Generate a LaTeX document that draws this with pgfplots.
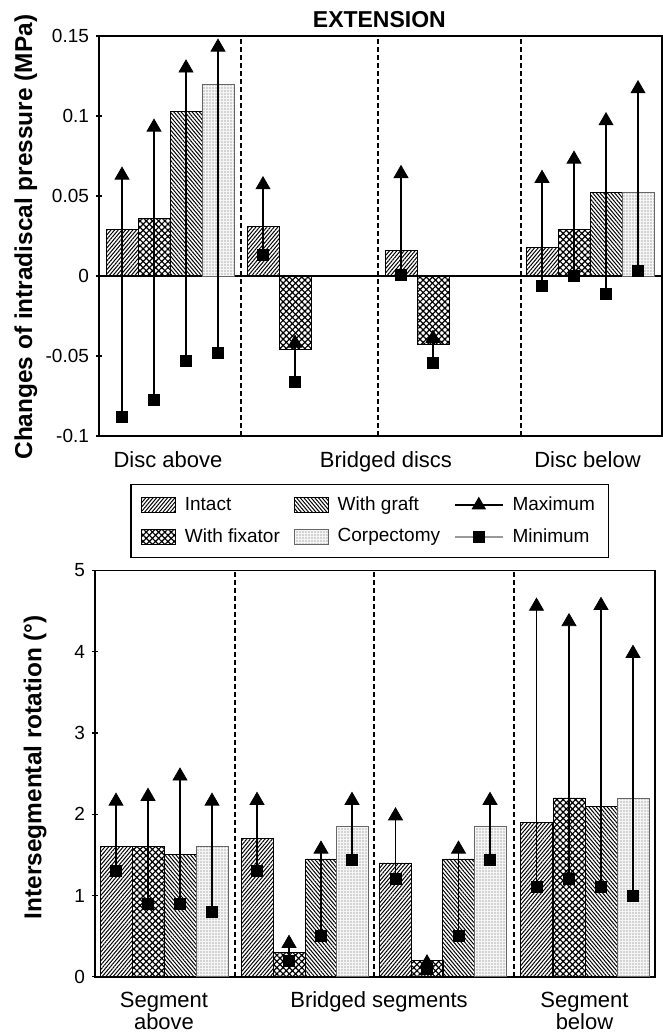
\documentclass[border=0pt]{standalone}
\usepackage{fontspec}
\setmainfont{Liberation Sans}
\usepackage{pgfplots}
\pgfplotsset{compat=1.18}
\usepackage{pgfplotstable}
\usetikzlibrary{patterns.meta}

\tikzset{
 intact/.style={draw=black, line width=0.4pt, pattern={Lines[angle=50,distance=1.4pt,line width=0.5pt]}, pattern color=black},
 fixator/.style={draw=black, line width=0.4pt, pattern={Hatch[angle=45,distance=2.2pt,line width=0.6pt]}, pattern color=black},
 graft/.style={draw=black, line width=0.4pt, pattern={Lines[angle=-50,distance=1.4pt,line width=0.5pt]}, pattern color=black},
 corp/.style={draw=black!60, line width=0.4pt, fill=black!4, postaction={pattern={Dots[distance=1.5pt,radius=0.3pt]}, pattern color=black!60}},
}

% ---------- top chart data ----------
\pgfplotstableread{
x val
122 0.029
263 0.031
401 0.016
542 0.018
}\topIntact
\pgfplotstableread{
x val
154 0.036
295 -0.046
433 -0.043
574 0.029
}\topFix
\pgfplotstableread{
x val
186 0.103
606 0.052
}\topGraft
\pgfplotstableread{
x val
218 0.120
638 0.052
}\topCorp
\pgfplotstableread{
x min max
122 -0.088 0.063
154 -0.0775 0.093
186 -0.053 0.130
218 -0.048 0.143
263 0.013 0.057
295 -0.066 -0.042
401 0.001 0.064
433 -0.054 -0.039
542 -0.006 0.061
574 0.000 0.073
606 -0.011 0.097
638 0.003 0.117
}\topRange

% ---------- bottom chart data ----------
\pgfplotstableread{
x val
116 1.6
257 1.7
395.5 1.4
536.5 1.9
}\botIntact
\pgfplotstableread{
x val
148 1.6
289 0.3
427 0.2
569 2.2
}\botFix
\pgfplotstableread{
x val
180 1.5
321 1.45
458.5 1.45
601 2.1
}\botGraft
\pgfplotstableread{
x val
212 1.6
352 1.85
490 1.85
633 2.2
}\botCorp
\pgfplotstableread{
x min max
116 1.3 2.16
148 0.9 2.22
180 0.9 2.47
212 0.8 2.16
257 1.3 2.17
289 0.2 0.41
321 0.5 1.57
352 1.44 2.17
395.5 1.2 1.98
427 0.1 0.17
458.5 0.5 1.57
490 1.44 2.17
536.5 1.1 4.56
569 1.2 4.37
601 1.1 4.57
633 1.0 3.98
}\botRange

\pgfplotsset{
 common/.style={
  scale only axis,
  axis line style={line width=0.8pt},
  ytick pos=left, tick align=center, major tick length=3pt,
  y tick style={black, line width=0.6pt},
  x tick style={draw=none},
  yticklabel style={font=\fontsize{9.5}{11}\selectfont},
  xticklabel style={font=\fontsize{11}{11}\selectfont, align=center, yshift=-2.5pt},
  extra x tick labels={},
  extra x tick style={grid=major, major grid style={black, line width=1.1pt, dash pattern=on 2.6pt off 1.4pt}, major tick length=0pt},
  ylabel style={font=\bfseries\fontsize{12.2}{14}\selectfont, anchor=center},
 },
 barplot/.style={ybar, bar width=32, bar shift=0pt, forget plot},
 rangeline/.style={draw=none, mark=none, forget plot, error bars/.cd, y dir=plus, y explicit, error mark=none, error bar style={draw=black, solid, line width=0.75pt}},
 minmark/.style={only marks, mark=square*, mark size=2.75pt, black, forget plot},
 maxmark/.style={only marks, mark=triangle*, mark size=4pt, black, forget plot},
 patchlegend/.style={legend image code/.code={\draw[##1] (0pt,-3.75pt) rectangle (17pt,3.75pt);}},
 linelegend/.style={legend image code/.code={\draw[mark repeat=2,mark phase=2,##1] plot coordinates {(0pt,0pt)(12pt,0pt)(24pt,0pt)};}},
}

\begin{document}
\begin{tikzpicture}
\path[use as bounding box] (0,0) rectangle (331.5pt,-516.5pt);

% ================= TOP =================
\begin{axis}[common,
 at={(49.5pt,-218pt)}, anchor=south west,
 width=281.5pt, height=200pt,
 xmin=99, xmax=662, ymin=-0.1, ymax=0.15,
 ytick={-0.1,-0.05,0,0.05,0.1,0.15},
 yticklabels={-0.1,-0.05,0,0.05,0.1,0.15},
 xtick={168,386,587.5},
 xticklabels={Disc above,Bridged discs,Disc below},
 extra x ticks={241,378.3,521},
 extra y ticks={0}, extra y tick labels={},
 extra y tick style={grid=major, major grid style={black, line width=0.6pt}},
 title={EXTENSION},
 title style={font=\bfseries\fontsize{11.5}{13}\selectfont, at={(axis description cs:0.498,1.01)}, anchor=center},
 ylabel={Changes of intradiscal pressure (MPa)},
 ylabel style={at={(axis description cs:-0.13,0.497)}},
]
\addplot[barplot, intact] table[x=x,y=val]{\topIntact};
\addplot[barplot, fixator] table[x=x,y=val]{\topFix};
\addplot[barplot, graft] table[x=x,y=val]{\topGraft};
\addplot[barplot, corp] table[x=x,y=val]{\topCorp};
\addplot[rangeline] table[x=x,y=min,y error plus expr=\thisrow{max}-\thisrow{min}]{\topRange};
\addplot[minmark] table[x=x,y=min]{\topRange};
\addplot[maxmark] table[x=x,y=max]{\topRange};
\end{axis}

% ================= BOTTOM =================
\begin{axis}[common,
 at={(47.5pt,-488.35pt)}, anchor=south west,
 width=280pt, height=203.1pt,
 xmin=95, xmax=655, ymin=0, ymax=5,
 ytick={0,1,2,3,4,5},
 yticklabels={0,1,2,3,4,5},
 xtick={164,379,584.5},
 xticklabels={Segment\\above,Bridged segments,Segment\\below},
 extra x ticks={234.6,374,513.6},
 ylabel={Intersegmental rotation (°)},
 ylabel style={at={(axis description cs:-0.107,0.516)}},
 legend columns=3,
 legend cell align=left,
 legend style={at={(axis description cs:0.491,1.122)}, anchor=center,
   draw=black, line width=0.6pt, font=\fontsize{9.5}{11}\selectfont,
   inner xsep=5pt, inner ysep=4pt, row sep=3.5pt,
   /tikz/every odd column/.append style={column sep=2.5pt},
   /tikz/every even column/.append style={column sep=5pt}},
]
\addlegendimage{patchlegend, intact}
\addlegendentry{Intact}
\addlegendimage{patchlegend, graft}
\addlegendentry{With graft}
\addlegendimage{linelegend, black, line width=0.7pt, mark=triangle*, mark size=3.5pt}
\addlegendentry{Maximum}
\addlegendimage{patchlegend, fixator}
\addlegendentry{With fixator}
\addlegendimage{patchlegend, corp}
\addlegendentry{Corpectomy}
\addlegendimage{linelegend, black!40, line width=0.7pt, mark=square*, mark options={black}, mark size=2.5pt}
\addlegendentry{Minimum}

\addplot[barplot, intact] table[x=x,y=val]{\botIntact};
\addplot[barplot, fixator] table[x=x,y=val]{\botFix};
\addplot[barplot, graft] table[x=x,y=val]{\botGraft};
\addplot[barplot, corp] table[x=x,y=val]{\botCorp};
\addplot[rangeline] table[x=x,y=min,y error plus expr=\thisrow{max}-\thisrow{min}]{\botRange};
\addplot[minmark] table[x=x,y=min]{\botRange};
\addplot[maxmark] table[x=x,y=max]{\botRange};
\end{axis}
\end{tikzpicture}
\end{document}
